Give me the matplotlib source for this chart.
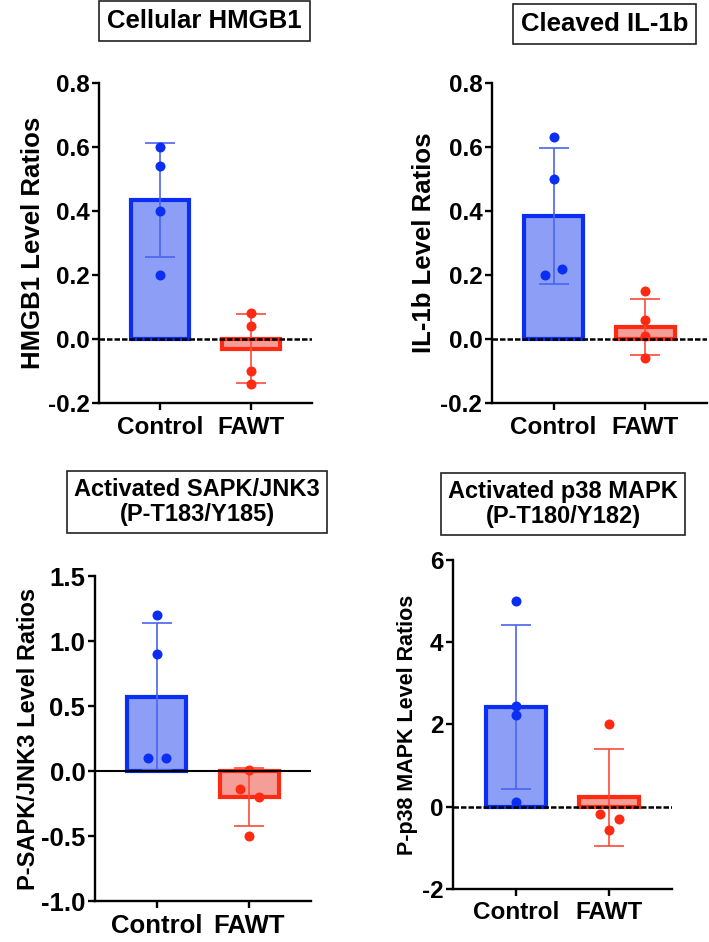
#!/usr/bin/env python3

import matplotlib
matplotlib.use('Agg')
import matplotlib.pyplot as plt
import numpy as np

# ----- data ----------------------------------------------

groups = ['Control', 'FAWT']

titles = ['Cellular HMGB1', 'Cleaved IL-1b',
          'Activated SAPK/JNK3\n(P-T183/Y185)', 'Activated p38 MAPK\n(P-T180/Y182)']
ylabels = ['HMGB1 Level Ratios', 'IL-1b Level Ratios',
           'P-SAPK/JNK3 Level Ratios', 'P-p38 MAPK Level Ratios']

# bar heights (mean) and SD per panel, [Control, FAWT]
hmgb1_mean = [0.435, -0.03]
hmgb1_sd = [0.178, 0.107]
il1b_mean = [0.385, 0.037]
il1b_sd = [0.213, 0.087]
jnk3_mean = [0.57, -0.2]
jnk3_sd = [0.565, 0.22]
p38_mean = [2.43, 0.23]
p38_sd = [2.0, 1.18]

# individual points per panel
hmgb1_ctrl = [0.60, 0.54, 0.40, 0.20]
hmgb1_fawt = [0.08, 0.04, -0.10, -0.14]
il1b_ctrl = [0.63, 0.50, 0.20, 0.22]
il1b_fawt = [0.15, 0.06, 0.01, -0.06]
jnk3_ctrl = [1.20, 0.90, 0.10, 0.10]
jnk3_fawt = [0.01, -0.14, -0.20, -0.50]
p38_ctrl = [5.00, 2.45, 2.22, 0.12]
p38_fawt = [2.00, -0.18, -0.30, -0.57]

# horizontal jitter of points (x offsets)
hmgb1_jit = [[0, 0, 0, 0], [0, 0, 0, 0]]
il1b_jit = [[0, 0, -0.09, 0.09], [0, 0, 0, 0]]
jnk3_jit = [[0, 0, -0.1, 0.1], [0, -0.1, 0.1, 0]]
p38_jit = [[0, 0, 0, 0], [0, -0.1, 0.1, 0]]

yticks = [[-0.2, 0.0, 0.2, 0.4, 0.6, 0.8],
          [-0.2, 0.0, 0.2, 0.4, 0.6, 0.8],
          [-1.0, -0.5, 0.0, 0.5, 1.0, 1.5],
          [-2, 0, 2, 4, 6]]
ytick_labels = [['-0.2', '0.0', '0.2', '0.4', '0.6', '0.8'],
                ['-0.2', '0.0', '0.2', '0.4', '0.6', '0.8'],
                ['-1.0', '-0.5', '0.0', '0.5', '1.0', '1.5'],
                ['-2', '0', '2', '4', '6']]

# ----- style ---------------------------------------------
plt.rcParams['font.family'] = ['Liberation Sans', 'DejaVu Sans']
plt.rcParams['font.weight'] = 'bold'

edge_cols = ['#0B2FF2', '#FF2A12']
fill_cols = ['#8D9EF7', '#F59E98']
err_cols = ['#4A64F0', '#FF4A38']

panels = [
    (hmgb1_mean, hmgb1_sd, [hmgb1_ctrl, hmgb1_fawt], hmgb1_jit),
    (il1b_mean, il1b_sd, [il1b_ctrl, il1b_fawt], il1b_jit),
    (jnk3_mean, jnk3_sd, [jnk3_ctrl, jnk3_fawt], jnk3_jit),
    (p38_mean, p38_sd, [p38_ctrl, p38_fawt], p38_jit),
]

# axes rects in figure fractions [left, bottom, width, height]
rects = [[0.140, 0.572, 0.300, 0.340],
         [0.694, 0.572, 0.303, 0.340],
         [0.134, 0.0435, 0.305, 0.345],
         [0.639, 0.0563, 0.309, 0.3492]]
tick_size = [17.5, 17.5, 18.5, 17.5]
label_size = [18.5, 18.5, 17, 15.5]
label_pad = [2, 3, 1, 3]
title_size = [18.5, 18.5, 17, 17]
title_pos = [(204.5, 21), (604.5, 24), (197, 502), (563, 504)]
zero_dashed = [True, True, False, True]

W, H = 709, 942
fig = plt.figure(figsize=(W / 100, H / 100), dpi=100, facecolor='w')

x = np.arange(len(groups))
for i, (means, sds, pts, jit) in enumerate(panels):
    ax = fig.add_axes(rects[i])
    ax.bar(x, means, width=0.64, color=fill_cols, edgecolor=edge_cols,
           linewidth=3.0, zorder=2)
    for g in range(len(groups)):
        ax.errorbar(x[g], means[g], yerr=sds[g], color=err_cols[g], capsize=11,
                    elinewidth=1.2, capthick=1.2, zorder=3)
        ax.scatter(x[g] + np.array(jit[g]), pts[g], s=52, color=edge_cols[g],
                   zorder=4, linewidths=0)
    if zero_dashed[i]:
        ax.axhline(0, color='k', lw=1.8, ls=(0, (2.2, 0.8)), zorder=5)
    else:
        ax.axhline(0, color='k', lw=1.5, zorder=5)
    ax.set_xlim(-0.67, 1.67)
    ax.set_ylim(yticks[i][0], yticks[i][-1])
    ax.set_yticks(yticks[i])
    ax.set_yticklabels(ytick_labels[i], fontsize=tick_size[i], fontweight='bold')
    ax.set_xticks(x)
    ax.set_xticklabels(groups, fontsize=tick_size[i], fontweight='bold')
    ax.set_ylabel(ylabels[i], fontsize=label_size[i], fontweight='bold',
                  labelpad=label_pad[i])
    for s in ['top', 'right']:
        ax.spines[s].set_visible(False)
    for s in ['left', 'bottom']:
        ax.spines[s].set_linewidth(1.7)
    ax.tick_params(axis='y', width=1.7, length=5, pad=2)
    ax.tick_params(axis='x', width=1.7, length=5, pad=4)
    ax.patch.set_alpha(0)

    tx, ty = title_pos[i]
    fig.text(tx / W, 1 - ty / H, titles[i], ha='center', va='center',
             fontsize=title_size[i], fontweight='bold', linespacing=1.1,
             bbox=dict(boxstyle='square,pad=0.3', fc='w', ec='#222222', lw=1.2))

fig.savefig('out.png', dpi=100)
